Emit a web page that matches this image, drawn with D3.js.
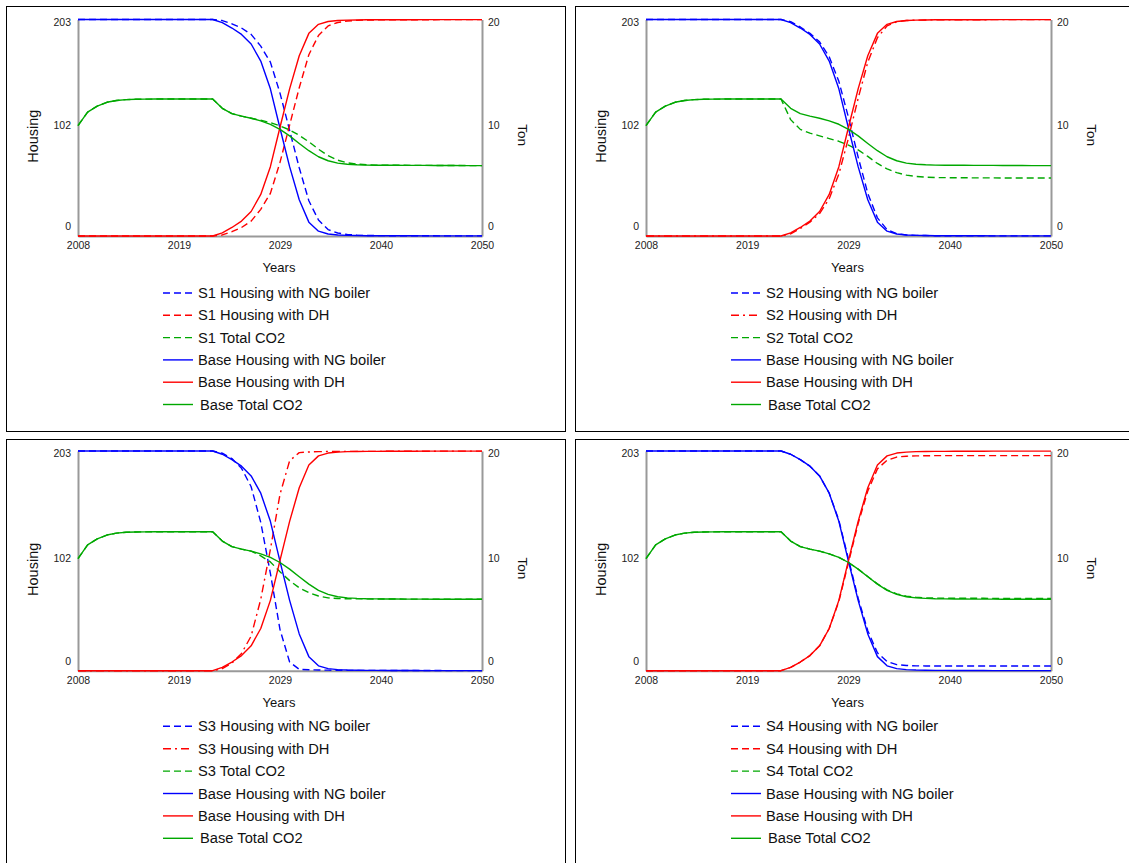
<!DOCTYPE html>
<html><head><meta charset="utf-8">
<script src="https://cdn.jsdelivr.net/npm/d3@7"></script>
<style>
html,body{margin:0;padding:0;background:#fff;}
svg{display:block;font-family:"Liberation Sans",Arial,Helvetica,sans-serif;}
</style></head><body>
<svg id="chart" width="1129" height="863"></svg>
<script>
// ---------- DATA ----------
const years = d3.range(2008, 2051);
const xTickValues = [2008, 2018.5, 2029, 2039.5, 2050];
const xTickLabels = ["2008", "2019", "2029", "2040", "2050"];
const leftTickValues = [0, 101.5, 203];
const leftTickLabels = ["0", "102", "203"];
const rightTickValues = [0, 10, 20];
const rightTickLabels = ["0", "10", "20"];
const leftAxisTitle = "Housing";
const rightAxisTitle = "Ton";
const xAxisTitle = "Years";
const scenarios = ["S1", "S2", "S3", "S4"];
const seriesNames = ["Housing with NG boiler", "Housing with DH", "Total CO2"];

const baseNG = [203,203,203,203,203,203,203,203,203,203,203,203,203,203,203,
  200,195,189,180,164,138,101,65,34,13,4.5,1.9,1.0,0.6,0.4,
  0.3,0.3,0.2,0.2,0.2,0.2,0.1,0.1,0.1,0.1,0.1,0.1,0.1];
const baseDH = [0,0,0,0,0,0,0,0,0,0,0,0,0,0,0,
  3,8,14,23,39,65,102,138,169,190,198.5,201.1,202,202.4,202.6,
  202.7,202.7,202.8,202.8,202.8,202.8,202.9,202.9,202.9,202.9,202.9,202.9,202.9];
const baseCO2 = [10.2,11.45,12.0,12.35,12.52,12.6,12.63,12.64,12.65,12.65,12.65,12.65,12.65,12.65,12.65,
  11.8,11.3,11.07,10.88,10.63,10.32,9.85,9.25,8.55,7.88,7.32,6.95,6.73,6.63,6.58,6.55,
  6.54,6.53,6.53,6.52,6.52,6.52,6.51,6.51,6.51,6.5,6.5,6.5];

const s1NG = [203,203,203,203,203,203,203,203,203,203,203,203,203,203,203,
  202,199,195,189,178,163,134,99,64,33,15,6,2.8,1.4,0.8,0.5,0.4,
  0.3,0.3,0.2,0.2,0.2,0.2,0.1,0.1,0.1,0.1,0.1];
const s1DH = [0,0,0,0,0,0,0,0,0,0,0,0,0,0,0,
  1,4,8,14,25,40,69,104,139,170,188,197,200.2,201.6,202.2,202.5,202.6,
  202.7,202.7,202.8,202.8,202.8,202.8,202.9,202.9,202.9,202.9,202.9];
const s1CO2 = [10.2,11.45,12.0,12.35,12.52,12.6,12.63,12.64,12.65,12.65,12.65,12.65,12.65,12.65,12.65,
  11.8,11.3,11.07,10.88,10.7,10.47,10.17,9.8,9.3,8.7,8.02,7.42,7.0,6.76,6.64,6.58,
  6.55,6.54,6.53,6.53,6.52,6.52,6.52,6.51,6.51,6.51,6.5,6.5];

const s2NG = [203,203,203,203,203,203,203,203,203,203,203,203,203,203,203,
  201,196,190,182,168,145,111,74,40,17,6,2.2,1.0,0.6,0.4,
  0.3,0.3,0.2,0.2,0.2,0.2,0.1,0.1,0.1,0.1,0.1,0.1,0.1];
const s2DH = [0,0,0,0,0,0,0,0,0,0,0,0,0,0,0,
  2,7,13,21,35,58,92,129,163,186,197,200.8,202,202.4,202.6,
  202.7,202.7,202.8,202.8,202.8,202.8,202.9,202.9,202.9,202.9,202.9,202.9,202.9];
const s2CO2 = [10.2,11.45,12.0,12.35,12.52,12.6,12.63,12.64,12.65,12.65,12.65,12.65,12.65,12.65,12.65,
  10.75,9.85,9.5,9.25,9.0,8.75,8.4,7.95,7.35,6.7,6.2,5.85,5.62,5.5,5.44,5.4,
  5.39,5.38,5.38,5.37,5.37,5.37,5.36,5.36,5.36,5.36,5.36,5.36];

const s3NG = [203,203,203,203,203,203,203,203,203,203,203,203,203,203,203,
  201,196,187,170,137,90,38,8,1.3,0.9,0.6,0.5,0.4,
  0.3,0.3,0.3,0.3,0.3,0.2,0.2,0.2,0.2,0.2,0.1,0.1,0.1,0.1,0.1];
const s3DH = [0,0,0,0,0,0,0,0,0,0,0,0,0,0,0,
  2,7,16,32,66,112,163,194,201.5,202.1,202.4,202.5,202.6,
  202.7,202.7,202.7,202.7,202.7,202.8,202.8,202.8,202.8,202.8,202.9,202.9,202.9,202.9,202.9];
const s3CO2 = [10.2,11.45,12.0,12.35,12.52,12.6,12.63,12.64,12.65,12.65,12.65,12.65,12.65,12.65,12.65,
  11.8,11.3,11.07,10.88,10.45,9.9,9.0,8.2,7.55,7.1,6.8,6.63,6.57,6.55,6.54,6.54,
  6.53,6.53,6.53,6.52,6.52,6.52,6.51,6.51,6.51,6.5,6.5,6.5];

const s4NG = [203,203,203,203,203,203,203,203,203,203,203,203,203,203,203,
  200,195,189,180,164,139,103,67,37,16.5,8.5,5.6,4.8,4.5,4.4,
  4.3,4.3,4.3,4.3,4.3,4.3,4.3,4.3,4.3,4.3,4.3,4.3,4.3];
const s4DH = [0,0,0,0,0,0,0,0,0,0,0,0,0,0,0,
  3,8,14,23,39,64,100,136,166,186.5,194.5,197.4,198.2,198.5,198.6,
  198.7,198.7,198.7,198.7,198.7,198.7,198.7,198.7,198.7,198.7,198.7,198.7,198.7];
const s4CO2 = [10.2,11.45,12.0,12.35,12.52,12.6,12.63,12.64,12.65,12.65,12.65,12.65,12.65,12.65,12.65,
  11.8,11.3,11.07,10.88,10.63,10.32,9.85,9.25,8.57,7.9,7.35,6.99,6.78,6.68,6.63,6.61,
  6.6,6.6,6.59,6.59,6.59,6.58,6.58,6.58,6.58,6.58,6.58,6.58];

// ---------- LAYOUT / STYLE ----------
const COLORS = {ng: "#0000ff", dh: "#ff0000", co2: "#00a800"};
const DASH = "7,4";
const DASHDOT = "8,4,2,4";
const panels = [
  {sc: "S1", ng: s1NG, dh: s1DH, co2: s1CO2, dhDash: DASH,
   box: [6.5, 6.5, 559, 425], plot: {l: 78, r: 482, t: 19.5, b: 236}, lx: 163, ly: 293, step: 22.3},
  {sc: "S2", ng: s2NG, dh: s2DH, co2: s2CO2, dhDash: DASHDOT,
   box: [575.5, 6.5, 600, 425], plot: {l: 646, r: 1051, t: 19.5, b: 236}, lx: 731, ly: 293, step: 22.3},
  {sc: "S3", ng: s3NG, dh: s3DH, co2: s3CO2, dhDash: DASHDOT,
   box: [6.5, 439.5, 559, 440], plot: {l: 78, r: 482, t: 451, b: 670.7}, lx: 163, ly: 726.3, step: 22.4},
  {sc: "S4", ng: s4NG, dh: s4DH, co2: s4CO2, dhDash: DASH,
   box: [575.5, 439.5, 600, 440], plot: {l: 646, r: 1051, t: 451, b: 670.7}, lx: 731, ly: 726.3, step: 22.4}
];

const svg = d3.select("#chart");
svg.append("rect").attr("width", 1129).attr("height", 863).attr("fill", "#fff");

panels.forEach(p => {
  const g = svg.append("g");
  g.append("rect").attr("x", p.box[0]).attr("y", p.box[1]).attr("width", p.box[2]).attr("height", p.box[3])
    .attr("fill", "none").attr("stroke", "#000").attr("stroke-width", 1);

  const x = d3.scaleLinear().domain([2008, 2050]).range([p.plot.l, p.plot.r]);
  const yL = d3.scaleLinear().domain([0, 203]).range([p.plot.b, p.plot.t]);
  const yR = d3.scaleLinear().domain([0, 20]).range([p.plot.b, p.plot.t]);

  // axes
  const axL = g.append("g").attr("transform", `translate(${p.plot.l},0)`)
    .call(d3.axisLeft(yL).tickValues(leftTickValues).tickFormat((d, i) => leftTickLabels[i]).tickSize(0).tickPadding(7));
  const axR = g.append("g").attr("transform", `translate(${p.plot.r},0)`)
    .call(d3.axisRight(yR).tickValues(rightTickValues).tickFormat((d, i) => rightTickLabels[i]).tickSize(0).tickPadding(6));
  const axB = g.append("g").attr("transform", `translate(0,${p.plot.b})`)
    .call(d3.axisBottom(x).tickValues(xTickValues).tickFormat((d, i) => xTickLabels[i]).tickSize(0).tickPadding(6));
  [axL, axR, axB].forEach(a => {
    a.select(".domain").attr("stroke", "#999").attr("stroke-width", 2);
    a.selectAll("text").attr("font-size", 10.5).attr("fill", "#222")
      .attr("font-family", '"Liberation Sans",Arial,sans-serif');
  });
  const vOff = (d, i) => i === 0 ? -10 : (i === 1 ? -2.5 : 2.5);
  axL.selectAll(".tick text").attr("y", vOff);
  axR.selectAll(".tick text").attr("y", vOff);

  // titles
  const cy = (p.plot.t + p.plot.b) / 2 + 8.5;
  g.append("text").attr("transform", `translate(${p.plot.l - 45.5},${cy}) rotate(-90)`)
    .attr("text-anchor", "middle").attr("dominant-baseline", "central")
    .attr("font-size", 14.5).attr("fill", "#111").text(leftAxisTitle);
  g.append("text").attr("transform", `translate(${p.plot.r + 40},${cy - 1}) rotate(90)`)
    .attr("text-anchor", "middle").attr("dominant-baseline", "central")
    .attr("font-size", 13.5).attr("fill", "#111").text(rightAxisTitle);
  g.append("text").attr("x", (p.plot.l + p.plot.r) / 2 - 1).attr("y", p.plot.b + 36)
    .attr("text-anchor", "middle").attr("font-size", 13).attr("fill", "#111").text(xAxisTitle);

  // lines
  const lineL = d3.line().x((d, i) => x(years[i])).y(d => yL(d));
  const lineR = d3.line().x((d, i) => x(years[i])).y(d => yR(d));
  const series = [
    {vals: p.ng, line: lineL, color: COLORS.ng, dash: DASH, label: `${p.sc} ${seriesNames[0]}`},
    {vals: p.dh, line: lineL, color: COLORS.dh, dash: p.dhDash, label: `${p.sc} ${seriesNames[1]}`},
    {vals: p.co2, line: lineR, color: COLORS.co2, dash: DASH, label: `${p.sc} ${seriesNames[2]}`},
    {vals: baseNG, line: lineL, color: COLORS.ng, dash: null, label: `Base ${seriesNames[0]}`},
    {vals: baseDH, line: lineL, color: COLORS.dh, dash: null, label: `Base ${seriesNames[1]}`},
    {vals: baseCO2, line: lineR, color: COLORS.co2, dash: null, label: `Base ${seriesNames[2]}`}
  ];
  series.forEach(s => {
    g.append("path").attr("d", s.line(s.vals)).attr("fill", "none")
      .attr("stroke", s.color).attr("stroke-width", 1.4)
      .attr("stroke-dasharray", s.dash).attr("stroke-linejoin", "round");
  });

  // legend
  series.forEach((s, i) => {
    const yy = p.ly + i * p.step;
    g.append("line").attr("x1", p.lx).attr("x2", p.lx + 30).attr("y1", yy).attr("y2", yy)
      .attr("stroke", s.color).attr("stroke-width", 1.4).attr("stroke-dasharray", s.dash);
    g.append("text").attr("x", p.lx + 35 + (i === 5 ? 2 : 0)).attr("y", yy)
      .attr("dominant-baseline", "central").attr("font-size", 14.7).attr("fill", "#111").text(s.label);
  });
});
</script>
</body></html>
